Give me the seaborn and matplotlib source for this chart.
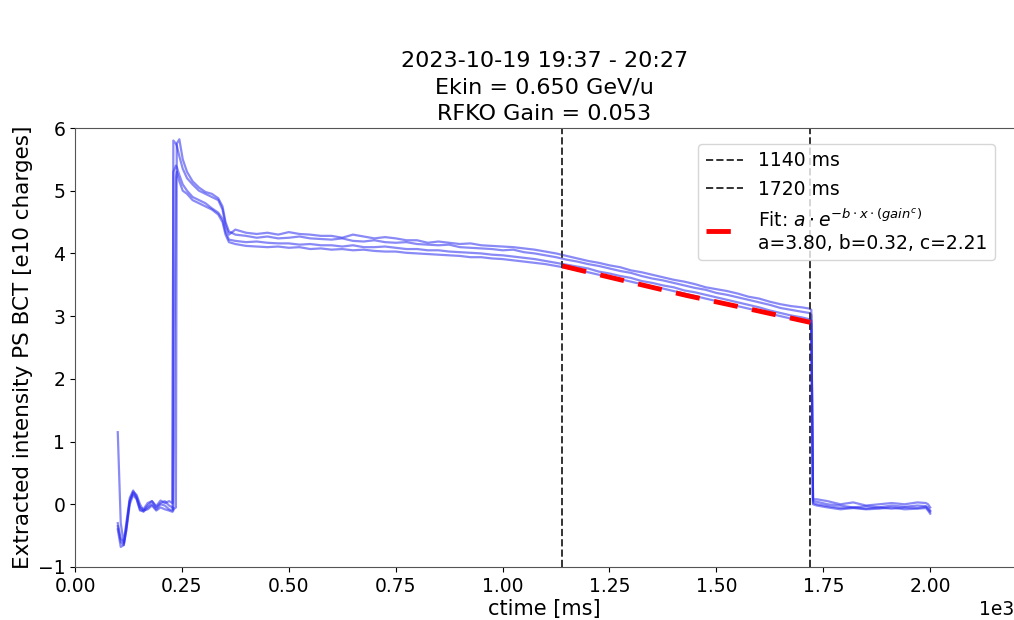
import numpy as np
import pandas as pd
import matplotlib
matplotlib.use("Agg")
import matplotlib.pyplot as plt
import seaborn as sns

# ---- data (ms, e10 charges) ----
t_ms = [100, 107, 114, 120, 128, 136, 144, 152, 160, 170, 180, 190, 200, 210, 220, 228, 230, 236, 238, 244,
        252, 262, 275, 290, 305, 320, 335, 345, 352, 360, 375, 400,
        425, 450, 475, 500, 525, 550, 575, 600, 625, 650, 675, 700, 725, 750, 775, 800, 825, 850, 875, 900,
        925, 950, 975, 1000, 1025, 1050, 1075, 1100, 1125, 1150, 1175, 1200, 1225, 1250, 1275, 1300,
        1325, 1350, 1375, 1400, 1425, 1450, 1475, 1500, 1525, 1550, 1575, 1600, 1625, 1650, 1675, 1700,
        1718, 1722, 1726, 1735, 1760, 1790, 1820, 1850, 1880, 1910, 1940, 1970, 1990, 1995, 2000]

shot1 = [1.15, -0.3, -0.62, -0.3, 0.1, 0.22, 0.12, -0.05, -0.08, 0.02, 0.05, -0.03, 0.06, 0.02, 0.05, 0.02, 5.80, 5.75, 5.72, 5.55,
         5.35, 5.2, 5.1, 5.0, 4.95, 4.9, 4.85, 4.7, 4.45, 4.3, 4.38, 4.33,
         4.31, 4.33, 4.30, 4.34, 4.31, 4.30, 4.28, 4.28, 4.25, 4.30, 4.27, 4.24, 4.26, 4.24, 4.21, 4.21, 4.17, 4.19, 4.17, 4.15,
         4.16, 4.13, 4.12, 4.11, 4.10, 4.08, 4.06, 4.03, 4.00, 3.96, 3.92, 3.88, 3.85, 3.81, 3.78, 3.73,
         3.70, 3.66, 3.62, 3.58, 3.55, 3.51, 3.46, 3.43, 3.40, 3.36, 3.31, 3.28, 3.23, 3.19, 3.16, 3.14,
         3.12, 3.1, 0.08, 0.08, 0.05, 0.0, 0.03, -0.02, 0.0, 0.02, 0.0, 0.03, 0.02, 0.0, -0.05]

shot2 = [-0.35, -0.6, -0.65, -0.4, 0.05, 0.2, 0.15, 0.0, -0.1, -0.02, 0.05, -0.05, 0.02, 0.05, -0.02, -0.05, -0.08, -0.05, 5.75, 5.82,
         5.5, 5.3, 5.15, 5.05, 4.98, 4.95, 4.88, 4.75, 4.5, 4.35, 4.3, 4.28,
         4.25, 4.27, 4.24, 4.25, 4.27, 4.24, 4.23, 4.22, 4.24, 4.20, 4.19, 4.21, 4.18, 4.17, 4.18, 4.15, 4.14, 4.13, 4.14, 4.10,
         4.09, 4.08, 4.07, 4.05, 4.06, 4.02, 4.00, 3.97, 3.94, 3.90, 3.87, 3.83, 3.80, 3.76, 3.72, 3.69,
         3.64, 3.60, 3.57, 3.53, 3.49, 3.45, 3.42, 3.37, 3.34, 3.30, 3.26, 3.22, 3.18, 3.13, 3.10, 3.07,
         3.05, 3.02, 0.05, 0.04, 0.0, -0.02, -0.05, -0.03, -0.05, -0.02, -0.04, -0.02, -0.03, -0.05, -0.1]

shot3 = [-0.3, -0.55, -0.6, -0.35, 0.05, 0.18, 0.1, -0.08, -0.12, -0.05, 0.0, -0.08, 0.0, -0.02, -0.08, -0.1, 5.3, 5.4, 5.38, 5.25,
         5.1, 5.0, 4.9, 4.85, 4.8, 4.72, 4.65, 4.55, 4.35, 4.22, 4.2, 4.18,
         4.19, 4.17, 4.16, 4.16, 4.14, 4.15, 4.13, 4.13, 4.11, 4.13, 4.10, 4.10, 4.11, 4.09, 4.07, 4.07, 4.05, 4.05, 4.03, 4.02,
         4.01, 4.00, 3.98, 3.97, 3.95, 3.93, 3.91, 3.88, 3.85, 3.82, 3.79, 3.76, 3.71, 3.68, 3.64, 3.61,
         3.56, 3.53, 3.49, 3.46, 3.41, 3.38, 3.34, 3.30, 3.26, 3.22, 3.18, 3.14, 3.09, 3.05, 3.01, 2.98,
         2.95, 2.93, 0.02, 0.0, -0.03, -0.06, -0.05, -0.07, -0.05, -0.07, -0.05, -0.06, -0.04, -0.08, -0.12]

shot4 = [-0.4, -0.68, -0.65, -0.42, 0.0, 0.15, 0.08, -0.1, -0.1, -0.08, -0.02, -0.1, -0.05, -0.08, -0.1, -0.12, -0.1, 5.2, 5.3, 5.15,
         5.0, 4.95, 4.85, 4.8, 4.75, 4.7, 4.62, 4.5, 4.3, 4.18, 4.15, 4.12,
         4.11, 4.10, 4.11, 4.09, 4.10, 4.07, 4.08, 4.06, 4.07, 4.05, 4.06, 4.04, 4.03, 4.03, 4.01, 4.00, 3.99, 3.98, 3.97, 3.96,
         3.94, 3.94, 3.92, 3.91, 3.89, 3.87, 3.85, 3.83, 3.80, 3.77, 3.73, 3.70, 3.66, 3.62, 3.59, 3.55,
         3.51, 3.47, 3.44, 3.40, 3.36, 3.32, 3.28, 3.24, 3.20, 3.16, 3.12, 3.08, 3.04, 3.00, 2.96, 2.92,
         2.9, 2.88, 0.0, -0.02, -0.05, -0.08, -0.06, -0.08, -0.07, -0.05, -0.08, -0.07, -0.06, -0.1, -0.15]

shots = {"s1": shot1, "s2": shot2, "s3": shot3, "s4": shot4}

fit_t = [1140, 1300, 1430, 1580, 1720]
fit_v = [3.80, 3.54, 3.33, 3.11, 2.90]

vlines = [1140, 1720]
vline_labels = ["1140 ms", "1720 ms"]
fit_label = "Fit: $a \\cdot e^{-b \\cdot x \\cdot (gain^c)}$\na=3.80, b=0.32, c=2.21"

title = "2023-10-19 19:37 - 20:27\nEkin = 0.650 GeV/u\nRFKO Gain = 0.053"

rows = []
for name, vals in shots.items():
    for tt, vv in zip(t_ms, vals):
        rows.append((name, tt, vv))
df = pd.DataFrame(rows, columns=["shot", "t", "v"])

fig = plt.figure(figsize=(10.14, 6.2), dpi=100)
ax = fig.add_axes([75 / 1014, 1 - 567 / 620, (1014 - 75) / 1014, (567 - 128) / 620])

sns.lineplot(data=df, x="t", y="v", units="shot", estimator=None, sort=False,
             color="#2a2af0", alpha=0.55, linewidth=1.6, legend=False, ax=ax)

for xv, lab in zip(vlines, vline_labels):
    ax.axvline(xv, color="#333333", linestyle="--", linewidth=1.4, label=lab)

sns.lineplot(x=fit_t, y=fit_v, color="red", linestyle="--", linewidth=3.5,
             dashes=False, label=fit_label, ax=ax)
ax.lines[-1].set_dashes([5, 3])

ax.set_xlim(0, 2196)
ax.set_ylim(-1, 6)
ax.ticklabel_format(axis="x", style="sci", scilimits=(0, 0))
ax.tick_params(labelsize=13.5)
ax.xaxis.get_offset_text().set_fontsize(13.5)
ax.set_xlabel("ctime [ms]", fontsize=15, labelpad=2)
ax.set_ylabel("Extracted intensity PS BCT [e10 charges]", fontsize=15.5, labelpad=3)
ax.set_title(title, fontsize=16, linespacing=1.4, pad=6)
for sp in ax.spines.values():
    sp.set_color("#555555")
ax.spines["right"].set_visible(False)

ax.legend(loc="upper right", fontsize=13.5, handlelength=2.0, framealpha=0.8,
          bbox_to_anchor=(0.99, 0.985))

fig.savefig("out.png", dpi=100)
